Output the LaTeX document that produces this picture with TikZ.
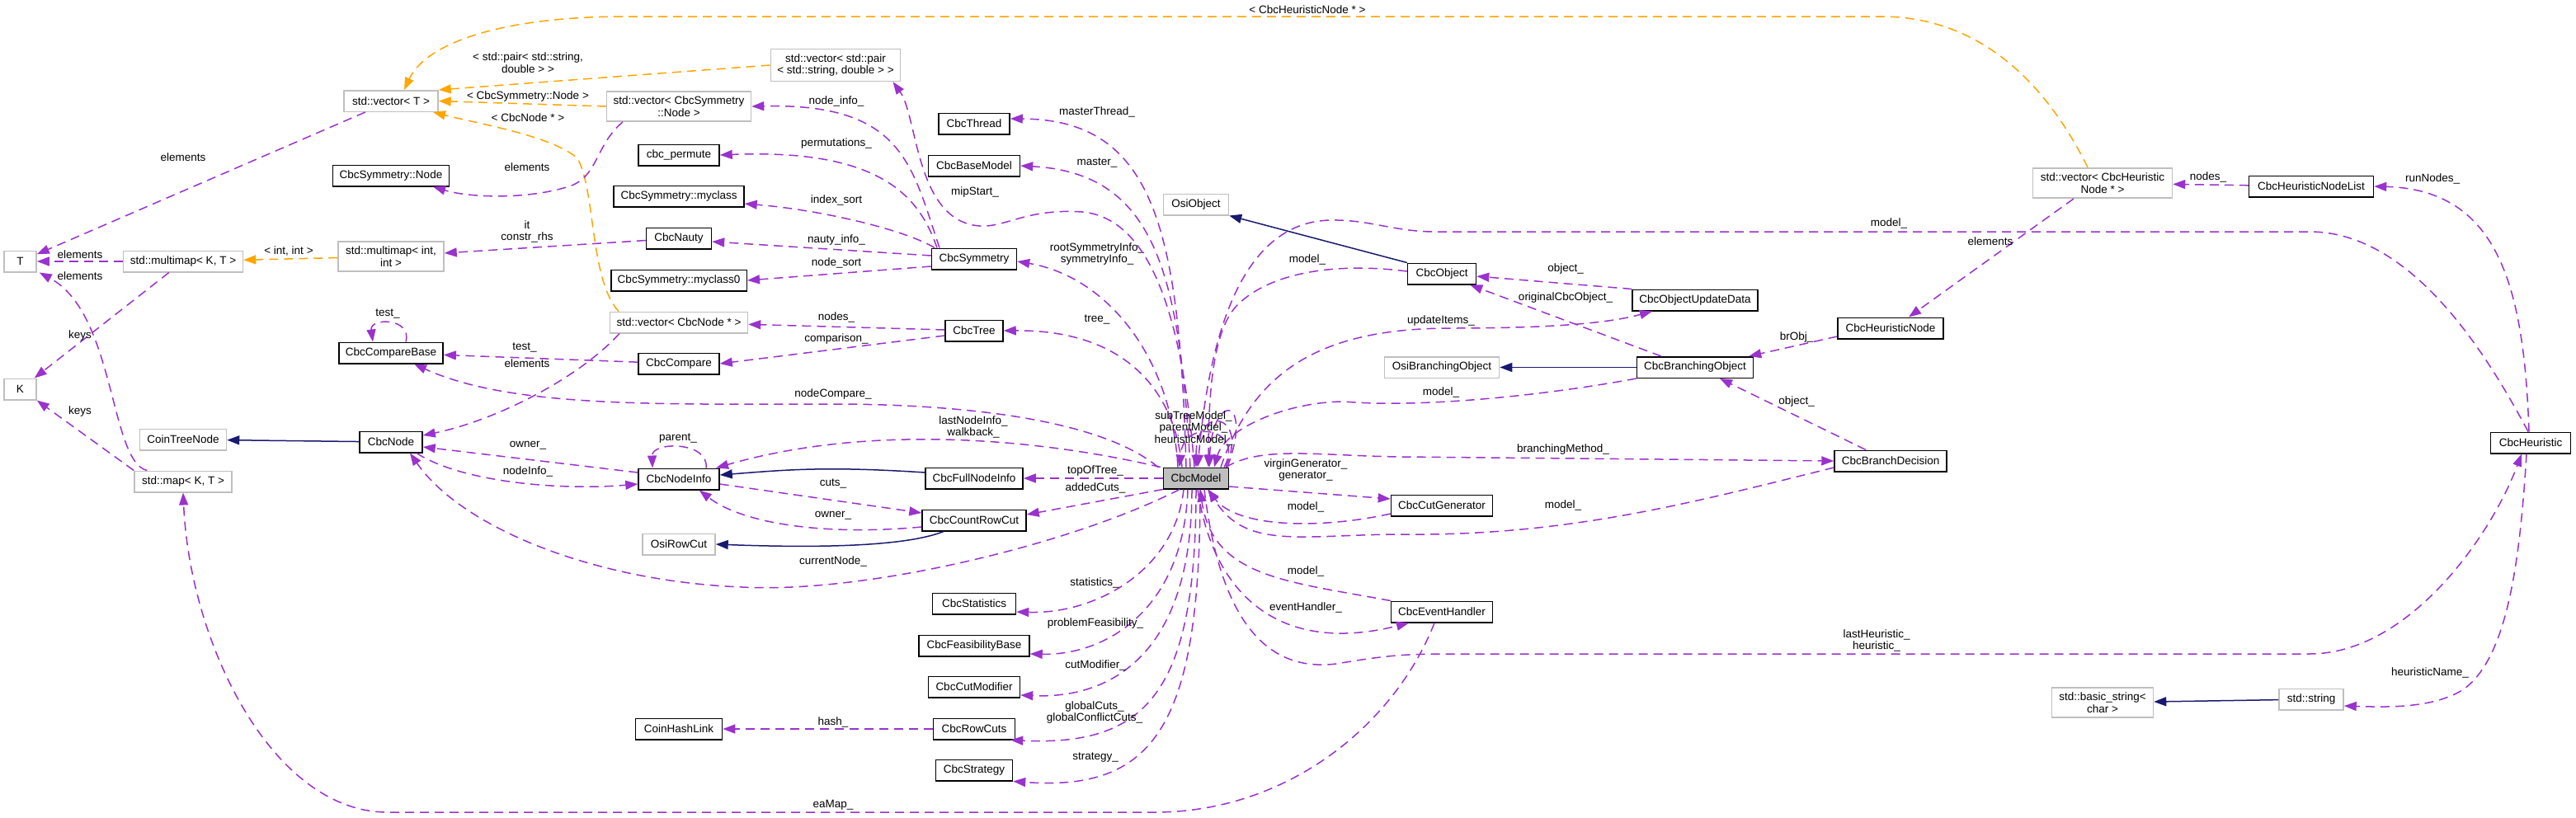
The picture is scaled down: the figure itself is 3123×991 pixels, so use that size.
\documentclass[tikz,border=0pt]{standalone}
\usepackage{fontspec}
\setmainfont{Liberation Sans}
\usetikzlibrary{arrows.meta, positioning, calc}

\definecolor{usecol}{HTML}{9A32CD}
\definecolor{tplcol}{HTML}{FFA500}
\definecolor{inhcol}{HTML}{191970}
\definecolor{undoc}{HTML}{BFBFBF}

\begin{document}
\begin{tikzpicture}[
  x=1pt, y=-1pt,
  every node/.style={font=\fontsize{13.5}{14.5}\selectfont},
  cls/.style={rectangle, draw=black, line width=1.5pt, fill=white,
              inner xsep=8pt, inner ysep=6pt, minimum height=25.5pt, align=center},
  ext/.style={cls, draw=undoc},
  focus/.style={cls, fill=undoc},
  lbl/.style={inner sep=1pt, align=center},
  use/.style={draw=usecol, line width=1.5pt, dash pattern=on 11pt off 7pt,
              -{Triangle[length=15pt, width=11pt]}},
  tpl/.style={use, draw=tplcol},
  inh/.style={draw=inhcol, line width=1.5pt, -{Triangle[length=15pt, width=11pt]}},
]
\useasboundingbox (0,0) rectangle (3123,991);

% templates and std types
\node[ext, minimum width=39pt]  (T)      at (24.5,317) {T};
\node[ext, minimum width=39pt]  (K)      at (24.5,472) {K};
\node[ext, minimum width=145pt] (mmKT)   at (222,317)  {std::multimap< K, T >};
\node[ext, minimum width=105pt] (treeNode) at (222,533) {CoinTreeNode};
\node[ext, minimum width=118pt] (mapKT)  at (222,584)  {std::map< K, T >};
\node[ext, minimum width=114pt] (vecT)   at (474,122.5) {std::vector< T >};
\node[cls, minimum width=140pt] (symNode) at (474,213) {CbcSymmetry::Node};
\node[ext, minimum width=128pt] (mmII)   at (474,311)  {std::multimap< int,\\ int >};
\node[cls, minimum width=126pt] (cmpBase) at (474,428) {CbcCompareBase};
\node[cls, minimum width=76pt]  (node)   at (474,536)  {CbcNode};

\node[ext, minimum width=175pt] (vecSym)  at (823,129) {std::vector< CbcSymmetry\\::Node >};
\node[cls, minimum width=98pt]  (permute) at (823,188) {cbc\_permute};
\node[cls, minimum width=158pt] (myclass) at (823,238) {CbcSymmetry::myclass};
\node[cls, minimum width=79pt]  (nauty)   at (823,289) {CbcNauty};
\node[cls, minimum width=164pt] (myclass0) at (823,340) {CbcSymmetry::myclass0};
\node[ext, minimum width=167pt] (vecNode) at (823,391) {std::vector< CbcNode * >};
\node[cls, minimum width=98pt]  (compare) at (823,441) {CbcCompare};
\node[cls, minimum width=98pt]  (info)    at (823,581) {CbcNodeInfo};
\node[ext, minimum width=88pt]  (rowCut)  at (823,660) {OsiRowCut};
\node[cls, minimum width=105pt] (hashLink) at (823,884) {CoinHashLink};

\node[ext, minimum width=155pt] (vecPair) at (1013,79) {std::vector< std::pair\\< std::string, double > >};
\node[cls, minimum width=86pt]  (thread)    at (1181,150) {CbcThread};
\node[cls, minimum width=111pt] (baseModel) at (1181,201) {CbcBaseModel};
\node[cls, minimum width=103pt] (symm)      at (1181,314) {CbcSymmetry};
\node[cls, minimum width=70pt]  (tree)      at (1181,401) {CbcTree};
\node[cls, minimum width=118pt] (fullInfo)  at (1181,580) {CbcFullNodeInfo};
\node[cls, minimum width=126pt] (countCut)  at (1181,631) {CbcCountRowCut};
\node[cls, minimum width=101pt] (stats)     at (1181,732) {CbcStatistics};
\node[cls, minimum width=134pt] (feas)      at (1181,783) {CbcFeasibilityBase};
\node[cls, minimum width=111pt] (cutMod)    at (1181,833) {CbcCutModifier};
\node[cls, minimum width=99pt]  (rowCuts)   at (1181,884) {CbcRowCuts};
\node[cls, minimum width=93pt]  (strategy)  at (1181,934) {CbcStrategy};

\node[ext, minimum width=79pt]   (osiObj) at (1450,248) {OsiObject};
\node[focus, minimum width=79pt] (model)  at (1450,580) {CbcModel};

\node[cls, minimum width=83pt]  (object)    at (1748,332) {CbcObject};
\node[ext, minimum width=139pt] (osiBranch) at (1748,445.5) {OsiBranchingObject};
\node[cls, minimum width=123pt] (cutGen)    at (1748,613) {CbcCutGenerator};
\node[cls, minimum width=123pt] (eventH)    at (1748,742) {CbcEventHandler};
\node[cls, minimum width=152pt] (objUpd)    at (2055,364) {CbcObjectUpdateData};
\node[cls, minimum width=141pt] (brObj)     at (2055,445.5) {CbcBranchingObject};
\node[cls, minimum width=128pt] (heurNode)  at (2292,398) {CbcHeuristicNode};
\node[cls, minimum width=136pt] (brDec)     at (2292,559) {CbcBranchDecision};
\node[ext, minimum width=169pt] (vecHN)     at (2549,222) {std::vector< CbcHeuristic\\Node * >};
\node[ext, minimum width=123pt] (basicStr)  at (2549,852) {std::basic\_string<\\ char >};
\node[cls, minimum width=151pt] (heurList)  at (2802,226) {CbcHeuristicNodeList};
\node[ext, minimum width=78pt]  (string)    at (2802,848) {std::string};
\node[cls, minimum width=97pt]  (heur)      at (3068,537) {CbcHeuristic};

% left part
\draw[use] (vecT) -- (T) node[lbl] (l1) at (222,191) {elements};
\draw[use] (mmKT) -- (T) node[lbl] (l2) at (97,309) {elements};
\draw[use] ([xshift=16pt]mapKT.north west) .. controls (133,560) and (140,380) .. ([xshift=3pt]T.south east)
  node[lbl] (l3) at (97,335) {elements};
\draw[use] (mmKT) -- (K) node[lbl] (l4) at (97,407) {keys};
\draw[use] (mapKT.north west) -- (K.south east) node[lbl] (l5) at (97,499) {keys};
\draw[tpl] (mmII) -- (mmKT) node[lbl] (l6) at (350,304) {< int, int >};
\draw[tpl] (vecPair.west) -- (vecT.north east)
  node[lbl] (l7) at (640,76) {< std::pair< std::string,\\ double > >};
\draw[tpl] (vecSym.west) -- (vecT.east) node[lbl] (l8) at (640,117) {< CbcSymmetry::Node >};
\draw[tpl] ([xshift=-73pt]vecNode.north) .. controls (715,340) and (722,230) .. (700,192)
  .. controls (670,165) and (580,150) .. ([xshift=51pt]vecT.south)
  node[lbl] (l9) at (640,143) {< CbcNode * >};
\draw[tpl] ([xshift=-18pt]vecHN.north) .. controls (2480,100) and (2400,20) .. (2280,20) -- (760,20)
  .. controls (600,20) and (515,55) .. ([xshift=16pt]vecT.north)
  node[lbl] (l10) at (1585,12) {< CbcHeuristicNode * >};
\draw[use] ([xshift=-68pt]vecSym.south) .. controls (722,175) and (725,215) .. (690,226)
  .. controls (640,242) and (570,240) .. ([xshift=51pt]symNode.south)
  node[lbl] (l11) at (639,203) {elements};
\draw[use] (nauty) -- (mmII) node[lbl] (l12) at (639,281) {it\\constr\_rhs};
\draw[use] ([xshift=18pt]cmpBase.north) .. controls (500,385) and (448,385) .. ([xshift=-22pt]cmpBase.north)
  node[lbl] (l13) at (470,380) {test\_};
\draw[use] (compare) -- (cmpBase) node[lbl] (l14) at (636,421) {test\_};
\draw[use] ([xshift=-72pt]vecNode.south) .. controls (700,460) and (600,510) .. ([yshift=8pt]node.east)
  node[lbl] (l15) at (639,441) {elements};
\draw[use] ([xshift=-46pt]model.north) .. controls (1330,505) and (1150,490) .. (1010,490)
  .. controls (800,490) and (620,495) .. ([xshift=28pt]cmpBase.south)
  node[lbl] (l16) at (1010,478) {nodeCompare\_};

% node info and cuts
\draw[inh] (node) -- (treeNode);
\draw[use] ([yshift=8pt]info.west) -- ([yshift=-6pt]node.east) node[lbl] (l17) at (640,540) {owner\_};
\draw[use] ([xshift=31pt]node.south) .. controls (560,585) and (680,595) .. ([yshift=-6pt]info.west)
  node[lbl] (l18) at (640,572) {nodeInfo\_};
\draw[use] ([xshift=33pt]info.north) .. controls (860,535) and (790,535) .. ([xshift=-32pt]info.north)
  node[lbl] (l19) at (822,532) {parent\_};
\draw[use] ([xshift=-43pt]model.north) .. controls (1250,530) and (1050,515) .. ([xshift=45pt]info.north)
  node[lbl] (l20) at (1180,518) {lastNodeInfo\_\\walkback\_};
\draw[inh] ([yshift=7pt]fullInfo.west) .. controls (1000,565) and (950,570) .. ([yshift=5pt]info.east);
\draw[use] ([yshift=-6pt]info.east) -- ([yshift=9pt]countCut.west) node[lbl] (l21) at (1010,586) {cuts\_};
\draw[use] ([yshift=-8pt]countCut.west) .. controls (1000,650) and (900,635) .. ([xshift=-25pt]info.south east)
  node[lbl] (l22) at (1010,625) {owner\_};
\draw[inh] ([xshift=-37pt]countCut.south) .. controls (1100,662) and (1000,665) .. (rowCut.east);
\draw[use] (model) -- (fullInfo) node[lbl] (l23) at (1328,571) {topOfTree\_};
\draw[use] (model.south west) -- ([yshift=7pt]countCut.east) node[lbl] (l24) at (1328,592) {addedCuts\_};
\draw[use] ([xshift=-20pt]model.south) .. controls (1300,660) and (1050,720) .. (900,712)
  .. controls (720,705) and (560,640) .. ([xshift=23pt]node.south)
  node[lbl] (l25) at (1010,681) {currentNode\_};

% lower members of the model
\draw[use] ([xshift=-15pt]model.south) .. controls (1425,690) and (1330,745) .. ([yshift=-10pt]stats.east)
  node[lbl] (l26) at (1327,707) {statistics\_};
\draw[use] ([xshift=-10pt]model.south) .. controls (1435,740) and (1340,795) .. ([yshift=-10pt]feas.east)
  node[lbl] (l27) at (1328,756) {problemFeasibility\_};
\draw[use] ([xshift=-5pt]model.south) .. controls (1445,790) and (1350,848) .. ([yshift=-10pt]cutMod.east)
  node[lbl] (l28) at (1328,807) {cutModifier\_};
\draw[use] (model.south) .. controls (1450,840) and (1390,905) .. ([xshift=-6pt]rowCuts.south east)
  node[lbl] (l29) at (1327,864) {globalCuts\_\\globalConflictCuts\_};
\draw[use] ([xshift=5pt]model.south) .. controls (1455,880) and (1400,960) .. (strategy.south east)
  node[lbl] (l30) at (1328,919) {strategy\_};
\draw[use] (rowCuts) -- (hashLink) node[lbl] (l31) at (1010,876) {hash\_};
\draw[use] ([xshift=-9pt]eventH.south) .. controls (1690,880) and (1560,985) .. (1400,985) -- (470,985)
  .. controls (330,985) and (230,780) .. (mapKT.south)
  node[lbl] (l32) at (1010,976) {eaMap\_};

% symmetry
\draw[use] ([xshift=-42pt]symm.north) .. controls (1105,200) and (1095,125) .. (vecSym.east)
  node[lbl] (l33) at (1014,123) {node\_info\_};
\draw[use] ([xshift=-45pt]symm.north) .. controls (1115,240) and (1070,180) .. (permute.east)
  node[lbl] (l34) at (1014,174) {permutations\_};
\draw[use] ([xshift=-48pt]symm.north) .. controls (1100,280) and (1000,255) .. ([yshift=-9pt]myclass.east)
  node[lbl] (l35) at (1014,243) {index\_sort};
\draw[use] ([yshift=4pt]symm.west) -- ([yshift=-4pt]nauty.east) node[lbl] (l36) at (1014,291) {nauty\_info\_};
\draw[use] ([yshift=-9pt]symm.west) -- (myclass0.east) node[lbl] (l37) at (1014,319) {node\_sort};

% upper members of the model
\draw[use] ([xshift=-22pt]model.north) .. controls (1420,430) and (1340,335) .. ([yshift=-3pt]symm.east)
  node[lbl] (l38) at (1330,308) {rootSymmetryInfo\_\\symmetryInfo\_};
\draw[use] ([xshift=-17pt]model.north) .. controls (1425,480) and (1370,400) .. (tree.east)
  node[lbl] (l39) at (1330,387) {tree\_};
\draw[use] (tree) -- (vecNode) node[lbl] (l40) at (1014,385) {nodes\_};
\draw[use] ([yshift=-6pt]tree.west) -- (compare.east) node[lbl] (l41) at (1014,411) {comparison\_};
\draw[use] ([xshift=-12pt]model.north) .. controls (1430,280) and (1400,145) .. ([yshift=6pt]thread.east)
  node[lbl] (l42) at (1330,136) {masterThread\_};
\draw[use] ([xshift=-7pt]model.north) .. controls (1430,330) and (1400,210) .. (baseModel.east)
  node[lbl] (l43) at (1330,197) {master\_};
\draw[use] ([xshift=-2pt]model.north) .. controls (1435,400) and (1400,265) .. (1312,257)
  .. controls (1240,252) and (1215,280) .. (1180,273)
  .. controls (1110,260) and (1112,140) .. ([xshift=-10pt]vecPair.south east)
  node[lbl] (l44) at (1182,233) {mipStart\_};

% objects and branching
\draw[inh] (object.north west) -- (osiObj.south east);
\draw[use] ([yshift=3pt]object.west) .. controls (1620,318) and (1540,330) .. (1500,370)
  .. controls (1470,400) and (1465,480) .. ([xshift=15pt]model.north)
  node[lbl] (l45) at (1585,315) {model\_};
\draw[use] (objUpd.north west) -- ([yshift=-3pt]object.east) node[lbl] (l46) at (1898,326) {object\_};
\draw[use] ([xshift=-41pt]brObj.north) -- ([xshift=-8pt]object.south east)
  node[lbl] (l47) at (1898,361) {originalCbcObject\_};
\draw[use] ([xshift=30pt]model.north) .. controls (1520,450) and (1600,398) .. (1760,398)
  .. controls (1880,398) and (1950,392) .. ([xshift=-52pt]objUpd.south)
  node[lbl] (l48) at (1747,389) {updateItems\_};
\draw[inh] (brObj) -- (osiBranch);
\draw[use] (brObj.south west) .. controls (1870,480) and (1720,495) .. (1630,487)
  .. controls (1560,487) and (1485,520) .. ([xshift=22pt]model.north)
  node[lbl] (l49) at (1747,476) {model\_};
\draw[use] ([yshift=-10pt]heurNode.west) -- ([xshift=-6pt]brObj.north east) node[lbl] (l50) at (2178,409) {brObj\_};
\draw[use] ([xshift=-30pt]brDec.north) -- ([xshift=30pt]brObj.south) node[lbl] (l51) at (2178,487) {object\_};
\draw[use] ([xshift=-4pt]model.north east) .. controls (1530,540) and (1600,553) .. (1700,554) -- (brDec.west)
  node[lbl] (l52) at (1895,545) {branchingMethod\_};
\draw[use] ([yshift=-8pt]brDec.west) .. controls (2050,610) and (1900,650) .. (1700,648)
  .. controls (1580,648) and (1510,668) .. ([xshift=15pt]model.south)
  node[lbl] (l53) at (1895,613) {model\_};
\draw[use] ([yshift=-10pt]model.east) -- ([yshift=8pt]cutGen.west)
  node[lbl] (l54) at (1583,570) {virginGenerator\_\\generator\_};
\draw[use] ([yshift=-10pt]cutGen.west) .. controls (1600,642) and (1500,640) .. ([xshift=14pt]model.south)
  node[lbl] (l55) at (1583,615) {model\_};
\draw[use] (eventH.north west) .. controls (1560,705) and (1470,700) .. ([xshift=5pt]model.south)
  node[lbl] (l56) at (1583,693) {model\_};
\draw[use] ([xshift=2pt]model.south) .. controls (1470,720) and (1550,795) .. ([xshift=-40pt]eventH.south)
  node[lbl] (l57) at (1583,737) {eventHandler\_};

% heuristics
\draw[use] ([xshift=10pt]model.south) .. controls (1480,760) and (1540,815) .. (1620,805)
  .. controls (1680,795) and (1700,793) .. (1760,793) -- (2800,793)
  .. controls (2920,793) and (3020,650) .. ([xshift=-11pt]heur.south)
  node[lbl] (l58) at (2275,777) {lastHeuristic\_\\heuristic\_};
\draw[use] ([xshift=-3pt]heur.north) .. controls (3010,420) and (2920,281) .. (2800,281) -- (1740,281)
  .. controls (1690,281) and (1660,266) .. (1612,267)
  .. controls (1500,270) and (1465,420) .. ([xshift=2pt]model.north)
  node[lbl] (l59) at (2290,271) {model\_};
\draw[use] (heurList) -- (vecHN) node[lbl] (l60) at (2677,215) {nodes\_};
\draw[use] ([xshift=-2pt]heur.north) .. controls (3060,350) and (3030,230) .. (heurList.east)
  node[lbl] (l61) at (2949,217) {runNodes\_};
\draw[use] ([xshift=-35pt]vecHN.south) -- ([xshift=22pt]heurNode.north) node[lbl] (l62) at (2413,293) {elements};
\draw[use] ([xshift=-5pt]heur.south) .. controls (3055,680) and (3040,800) .. (2985,837)
  .. controls (2950,858) and (2900,858) .. ([yshift=-8pt]string.east)
  node[lbl] (l63) at (2946,816) {heuristicName\_};
\draw[inh] (string) -- (basicStr);

% self references of the model
\draw[use] ([xshift=34pt]model.north) .. controls (1510,520) and (1435,505) .. ([xshift=-20pt]model.north);
\draw[use] ([xshift=36pt]model.north) .. controls (1515,500) and (1450,490) .. (model.north);
\draw[use] ([xshift=38pt]model.north) .. controls (1520,480) and (1470,475) .. ([xshift=16pt]model.north)
  node[lbl] (l64) at (1447,519) {subTreeModel\_\\parentModel\_\\heuristicModel\_};
\end{tikzpicture}
\end{document}
